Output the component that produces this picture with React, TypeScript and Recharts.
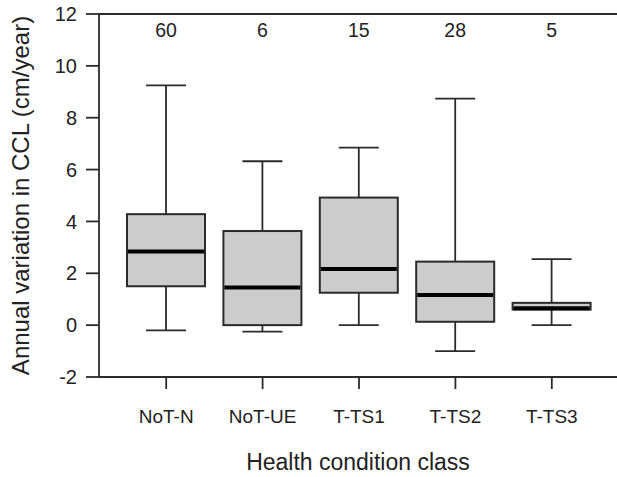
import React from 'react';
import { ComposedChart, Bar, XAxis, YAxis, ReferenceLine, Label } from 'recharts';

const categories = ['NoT-N', 'NoT-UE', 'T-TS1', 'T-TS2', 'T-TS3'];
const counts = [60, 6, 15, 28, 5];
const whiskerLow = [-0.2, -0.25, 0, -1.0, 0];
const q1 = [1.5, 0.0, 1.25, 0.13, 0.6];
const median = [2.84, 1.45, 2.17, 1.16, 0.65];
const q3 = [4.28, 3.63, 4.92, 2.45, 0.86];
const whiskerHigh = [9.25, 6.32, 6.85, 8.74, 2.55];
const yTicks = [-2, 0, 2, 4, 6, 8, 10, 12];
const countLabelLevel = 11.38;

const data = categories.map((name, i) => ({
  name,
  count: counts[i],
  lo: whiskerLow[i],
  q1: q1[i],
  median: median[i],
  q3: q3[i],
  hi: whiskerHigh[i],
  range: [whiskerLow[i], whiskerHigh[i]],
}));

const FONT = '"Liberation Sans", Arial, Helvetica, sans-serif';
const STROKE = '#2b2b2b';

const BoxShape = (props: any) => {
  const { x, y, width, height, payload } = props;
  if (!payload) return null;
  const top = Math.min(y, y + height);
  const bottom = Math.max(y, y + height);
  const span = payload.hi - payload.lo;
  const ppu = (bottom - top) / span;
  const pix = (v: number) => top + (payload.hi - v) * ppu;
  const cx = x + width / 2;
  const capW = 40;
  const yq3 = pix(payload.q3);
  const yq1 = pix(payload.q1);
  const ymed = pix(payload.median);
  const ylo = pix(payload.lo);
  const yhi = pix(payload.hi);
  const ycount = pix(countLabelLevel);
  return (
    <g>
      <line x1={cx} x2={cx} y1={yhi} y2={yq3} stroke={STROKE} strokeWidth={1.8} />
      <line x1={cx} x2={cx} y1={yq1} y2={ylo} stroke={STROKE} strokeWidth={1.8} />
      <line x1={cx - capW / 2} x2={cx + capW / 2} y1={yhi} y2={yhi} stroke={STROKE} strokeWidth={1.8} />
      <line x1={cx - capW / 2} x2={cx + capW / 2} y1={ylo} y2={ylo} stroke={STROKE} strokeWidth={1.8} />
      <rect x={x} y={yq3} width={width} height={Math.max(yq1 - yq3, 1)} fill="#cccccc" stroke={STROKE} strokeWidth={2} />
      <line x1={x + 1} x2={x + width - 1} y1={ymed} y2={ymed} stroke="#000" strokeWidth={4} />
      <text x={cx} y={ycount} dy="0.35em" textAnchor="middle" fontSize={19.5} fontFamily={FONT} fill="#222">
        {payload.count}
      </text>
    </g>
  );
};

export default function App() {
  return (
    <div style={{ position: 'absolute', left: 0, top: 0, background: '#fff' }}>
      <ComposedChart
        width={617}
        height={477}
        data={data}
        margin={{ top: 14, right: 0, bottom: 5, left: 0 }}
      >
        <XAxis
          dataKey="name"
          type="category"
          padding={{ left: 19, right: 17 }}
          height={95}
          tickSize={12}
          tickMargin={21}
          axisLine={{ stroke: STROKE, strokeWidth: 1.8 }}
          tickLine={{ stroke: STROKE, strokeWidth: 1.8 }}
          tick={{ fontSize: 19, fontFamily: FONT, fill: '#222' }}
          interval={0}
        >
          <Label
            value="Health condition class"
            position="insideBottom"
            offset={2}
            style={{ fontSize: 23, fontFamily: FONT, fill: '#222' }}
          />
        </XAxis>
        <YAxis
          type="number"
          domain={[-2, 12]}
          ticks={yTicks}
          width={99}
          tickSize={13}
          tickMargin={9}
          axisLine={{ stroke: STROKE, strokeWidth: 1.8 }}
          tickLine={{ stroke: STROKE, strokeWidth: 1.8 }}
          tick={{ fontSize: 20, fontFamily: FONT, fill: '#222' }}
          allowDataOverflow
        >
          <Label
            value="Annual variation in CCL (cm/year)"
            angle={-90}
            position="insideLeft"
            offset={20}
            style={{ fontSize: 24, fontFamily: FONT, fill: '#222', textAnchor: 'middle' }}
          />
        </YAxis>
        <ReferenceLine y={12} stroke={STROKE} strokeWidth={1.8} />
        <Bar dataKey="range" barSize={78} shape={BoxShape} isAnimationActive={false} />
      </ComposedChart>
    </div>
  );
}
